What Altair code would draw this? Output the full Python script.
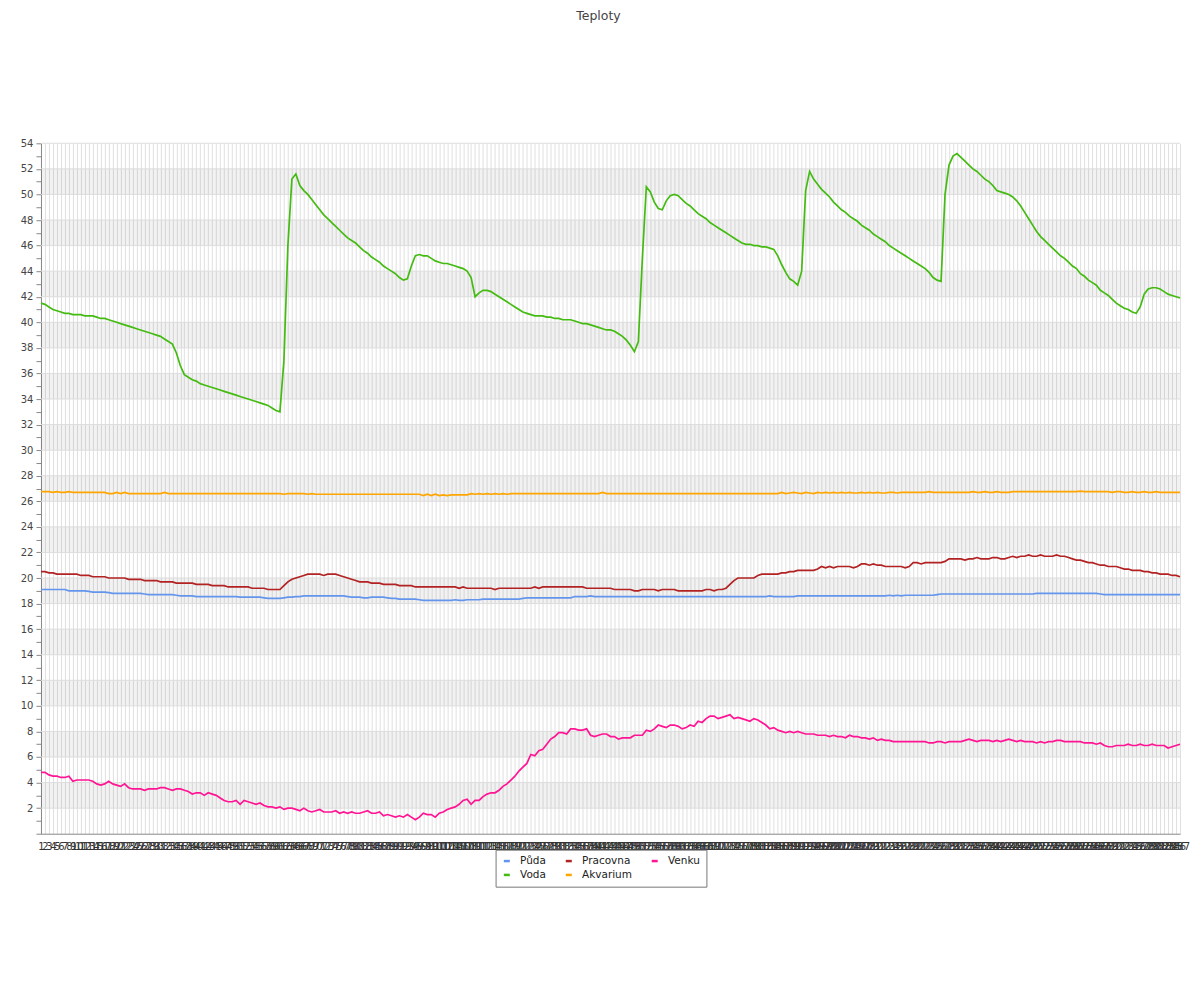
import altair as alt
import pandas as pd

# sample numbers on the x axis (categories)
labels = [str(n) for n in range(1, 288)]

puda = [
    19.1, 19.1, 19.1, 19.1, 19.1, 19.1, 19.1, 19.0, 19.0, 19.0,
    19.0, 19.0, 18.95, 18.9, 18.9, 18.9, 18.9, 18.85, 18.8, 18.8,
    18.8, 18.8, 18.8, 18.8, 18.8, 18.8, 18.75, 18.7, 18.7, 18.7,
    18.7, 18.7, 18.7, 18.7, 18.65, 18.6, 18.6, 18.6, 18.6, 18.55,
    18.55, 18.55, 18.55, 18.55, 18.55, 18.55, 18.55, 18.55, 18.55, 18.55,
    18.5, 18.5, 18.5, 18.5, 18.5, 18.5, 18.45, 18.4, 18.4, 18.4,
    18.4, 18.45, 18.5, 18.5, 18.55, 18.55, 18.6, 18.6, 18.6, 18.6,
    18.6, 18.6, 18.6, 18.6, 18.6, 18.6, 18.6, 18.55, 18.5, 18.5,
    18.5, 18.45, 18.45, 18.5, 18.5, 18.5, 18.5, 18.45, 18.4, 18.4,
    18.35, 18.35, 18.35, 18.35, 18.35, 18.3, 18.25, 18.25, 18.25, 18.25,
    18.25, 18.25, 18.25, 18.25, 18.3, 18.25, 18.25, 18.3, 18.3, 18.3,
    18.3, 18.35, 18.35, 18.35, 18.35, 18.35, 18.35, 18.35, 18.35, 18.35,
    18.35, 18.4, 18.45, 18.45, 18.45, 18.45, 18.45, 18.45, 18.45, 18.45,
    18.45, 18.45, 18.45, 18.45, 18.55, 18.55, 18.55, 18.55, 18.6, 18.55,
    18.55, 18.55, 18.55, 18.55, 18.55, 18.55, 18.55, 18.55, 18.55, 18.55,
    18.55, 18.55, 18.55, 18.55, 18.55, 18.55, 18.55, 18.55, 18.55, 18.55,
    18.55, 18.55, 18.55, 18.55, 18.55, 18.55, 18.55, 18.55, 18.55, 18.55,
    18.55, 18.55, 18.55, 18.55, 18.55, 18.55, 18.55, 18.55, 18.55, 18.55,
    18.55, 18.55, 18.55, 18.6, 18.55, 18.55, 18.55, 18.55, 18.55, 18.55,
    18.6, 18.6, 18.6, 18.6, 18.6, 18.6, 18.6, 18.6, 18.6, 18.6,
    18.6, 18.6, 18.6, 18.6, 18.6, 18.6, 18.6, 18.6, 18.6, 18.6,
    18.6, 18.6, 18.6, 18.65, 18.6, 18.65, 18.6, 18.65, 18.65, 18.65,
    18.65, 18.65, 18.65, 18.65, 18.65, 18.7, 18.75, 18.75, 18.75, 18.75,
    18.75, 18.75, 18.75, 18.75, 18.75, 18.75, 18.75, 18.75, 18.75, 18.75,
    18.75, 18.75, 18.75, 18.75, 18.75, 18.75, 18.75, 18.75, 18.75, 18.75,
    18.8, 18.8, 18.8, 18.8, 18.8, 18.8, 18.8, 18.8, 18.8, 18.8,
    18.8, 18.8, 18.8, 18.8, 18.8, 18.8, 18.75, 18.7, 18.7, 18.7,
    18.7, 18.7, 18.7, 18.7, 18.7, 18.7, 18.7, 18.7, 18.7, 18.7,
    18.7, 18.7, 18.7, 18.7, 18.7, 18.7, 18.7,
]

pracovna = [
    20.5, 20.5, 20.4, 20.4, 20.3, 20.3, 20.3, 20.3, 20.3, 20.3,
    20.2, 20.2, 20.2, 20.1, 20.1, 20.1, 20.1, 20.0, 20.0, 20.0,
    20.0, 20.0, 19.9, 19.9, 19.9, 19.9, 19.8, 19.8, 19.8, 19.8,
    19.7, 19.7, 19.7, 19.7, 19.6, 19.6, 19.6, 19.6, 19.6, 19.5,
    19.5, 19.5, 19.5, 19.4, 19.4, 19.4, 19.4, 19.3, 19.3, 19.3,
    19.3, 19.3, 19.3, 19.2, 19.2, 19.2, 19.2, 19.1, 19.1, 19.1,
    19.1, 19.4, 19.7, 19.9, 20.0, 20.1, 20.2, 20.3, 20.3, 20.3,
    20.3, 20.2, 20.3, 20.3, 20.3, 20.2, 20.1, 20.0, 19.9, 19.8,
    19.7, 19.7, 19.7, 19.6, 19.6, 19.6, 19.5, 19.5, 19.5, 19.5,
    19.4, 19.4, 19.4, 19.4, 19.3, 19.3, 19.3, 19.3, 19.3, 19.3,
    19.3, 19.3, 19.3, 19.3, 19.3, 19.2, 19.3, 19.2, 19.2, 19.2,
    19.2, 19.2, 19.2, 19.2, 19.1, 19.2, 19.2, 19.2, 19.2, 19.2,
    19.2, 19.2, 19.2, 19.2, 19.3, 19.2, 19.3, 19.3, 19.3, 19.3,
    19.3, 19.3, 19.3, 19.3, 19.3, 19.3, 19.3, 19.2, 19.2, 19.2,
    19.2, 19.2, 19.2, 19.2, 19.1, 19.1, 19.1, 19.1, 19.1, 19.0,
    19.0, 19.1, 19.1, 19.1, 19.1, 19.0, 19.1, 19.1, 19.1, 19.1,
    19.0, 19.0, 19.0, 19.0, 19.0, 19.0, 19.0, 19.1, 19.1, 19.0,
    19.1, 19.1, 19.2, 19.5, 19.8, 20.0, 20.0, 20.0, 20.0, 20.0,
    20.2, 20.3, 20.3, 20.3, 20.3, 20.3, 20.4, 20.4, 20.5, 20.5,
    20.6, 20.6, 20.6, 20.6, 20.6, 20.7, 20.9, 20.8, 20.9, 20.8,
    20.9, 20.9, 20.9, 20.9, 20.8, 20.9, 21.1, 21.1, 21.0, 21.1,
    21.0, 21.0, 20.9, 20.9, 20.9, 20.9, 20.9, 20.8, 20.9, 21.2,
    21.2, 21.1, 21.2, 21.2, 21.2, 21.2, 21.2, 21.3, 21.5, 21.5,
    21.5, 21.5, 21.4, 21.5, 21.5, 21.6, 21.5, 21.5, 21.5, 21.6,
    21.6, 21.5, 21.5, 21.6, 21.7, 21.6, 21.7, 21.7, 21.8, 21.7,
    21.7, 21.8, 21.7, 21.7, 21.7, 21.8, 21.7, 21.7, 21.6, 21.5,
    21.4, 21.4, 21.3, 21.2, 21.2, 21.1, 21.0, 21.0, 20.9, 20.9,
    20.9, 20.8, 20.7, 20.7, 20.6, 20.6, 20.6, 20.5, 20.5, 20.4,
    20.4, 20.3, 20.3, 20.3, 20.2, 20.2, 20.1,
]

venku = [
    4.8, 4.8, 4.6, 4.5, 4.5, 4.4, 4.4, 4.5, 4.1, 4.2,
    4.2, 4.2, 4.2, 4.1, 3.9, 3.8, 3.9, 4.1, 3.9, 3.8,
    3.7, 3.9, 3.6, 3.5, 3.5, 3.5, 3.4, 3.5, 3.5, 3.5,
    3.6, 3.6, 3.5, 3.4, 3.5, 3.5, 3.4, 3.3, 3.1, 3.2,
    3.2, 3.0, 3.2, 3.1, 3.0, 2.8, 2.6, 2.5, 2.5, 2.6,
    2.3, 2.6, 2.5, 2.4, 2.3, 2.4, 2.2, 2.1, 2.1, 2.0,
    2.1, 1.9, 2.0, 2.0, 1.9, 1.8, 2.0, 1.8, 1.7, 1.8,
    1.9, 1.7, 1.7, 1.7, 1.8, 1.6, 1.7, 1.6, 1.7, 1.6,
    1.6, 1.7, 1.8, 1.6, 1.6, 1.7, 1.4, 1.5, 1.4, 1.3,
    1.4, 1.3, 1.5, 1.3, 1.1, 1.3, 1.6, 1.5, 1.5, 1.3,
    1.6, 1.7, 1.9, 2.0, 2.1, 2.3, 2.6, 2.7, 2.3, 2.6,
    2.6, 2.9, 3.1, 3.2, 3.2, 3.4, 3.7, 3.9, 4.2, 4.5,
    4.9, 5.2, 5.5, 6.2, 6.1, 6.5, 6.6, 7.0, 7.4, 7.6,
    7.9, 7.9, 7.8, 8.2, 8.2, 8.1, 8.1, 8.2, 7.7, 7.6,
    7.7, 7.8, 7.8, 7.6, 7.6, 7.4, 7.5, 7.5, 7.5, 7.7,
    7.7, 7.7, 8.1, 8.0, 8.2, 8.5, 8.4, 8.3, 8.5, 8.5,
    8.4, 8.2, 8.3, 8.5, 8.4, 8.8, 8.7, 9.0, 9.2, 9.2,
    9.0, 9.1, 9.2, 9.3, 9.0, 9.1, 9.0, 8.9, 8.8, 9.0,
    8.9, 8.7, 8.5, 8.2, 8.3, 8.1, 8.0, 7.9, 8.0, 7.9,
    8.0, 7.9, 7.8, 7.8, 7.8, 7.7, 7.7, 7.7, 7.6, 7.7,
    7.6, 7.6, 7.5, 7.7, 7.6, 7.6, 7.5, 7.5, 7.4, 7.5,
    7.3, 7.4, 7.3, 7.3, 7.2, 7.2, 7.2, 7.2, 7.2, 7.2,
    7.2, 7.2, 7.2, 7.1, 7.1, 7.2, 7.2, 7.1, 7.2, 7.2,
    7.2, 7.2, 7.3, 7.4, 7.3, 7.2, 7.3, 7.3, 7.3, 7.2,
    7.3, 7.2, 7.3, 7.4, 7.3, 7.2, 7.3, 7.2, 7.2, 7.2,
    7.1, 7.2, 7.1, 7.2, 7.2, 7.3, 7.3, 7.2, 7.2, 7.2,
    7.2, 7.2, 7.1, 7.1, 7.1, 7.0, 7.1, 6.9, 6.8, 6.8,
    6.9, 6.9, 6.9, 7.0, 6.9, 6.9, 7.0, 6.9, 6.9, 7.0,
    6.9, 6.9, 6.9, 6.7, 6.8, 6.9, 7.0,
]

voda = [
    41.5, 41.4, 41.2, 41.0, 40.9, 40.8, 40.7, 40.7, 40.6, 40.6,
    40.6, 40.5, 40.5, 40.5, 40.4, 40.3, 40.3, 40.2, 40.1, 40.0,
    39.9, 39.8, 39.7, 39.6, 39.5, 39.4, 39.3, 39.2, 39.1, 39.0,
    38.9, 38.7, 38.5, 38.3, 37.6, 36.6, 35.9, 35.7, 35.5, 35.4,
    35.2, 35.1, 35.0, 34.9, 34.8, 34.7, 34.6, 34.5, 34.4, 34.3,
    34.2, 34.1, 34.0, 33.9, 33.8, 33.7, 33.6, 33.5, 33.3, 33.1,
    33.0, 37.0, 46.0, 51.2, 51.6, 50.7, 50.3, 50.0, 49.6, 49.2,
    48.8, 48.4, 48.1, 47.8, 47.5, 47.2, 46.9, 46.6, 46.4, 46.2,
    45.9, 45.6, 45.4, 45.1, 44.9, 44.7, 44.4, 44.2, 44.0, 43.8,
    43.5, 43.3, 43.4, 44.4, 45.2, 45.3, 45.2, 45.2, 45.0, 44.8,
    44.7, 44.6, 44.6, 44.5, 44.4, 44.3, 44.2, 44.0, 43.5, 42.0,
    42.3, 42.5, 42.5, 42.4, 42.2, 42.0, 41.8, 41.6, 41.4, 41.2,
    41.0, 40.8, 40.7, 40.6, 40.5, 40.5, 40.5, 40.4, 40.4, 40.3,
    40.3, 40.2, 40.2, 40.2, 40.1, 40.0, 39.9, 39.9, 39.8, 39.7,
    39.6, 39.5, 39.4, 39.4, 39.3, 39.1, 38.9, 38.6, 38.2, 37.7,
    38.5, 45.0, 50.6, 50.2, 49.4, 48.9, 48.8, 49.5, 49.9, 50.0,
    49.9, 49.6, 49.3, 49.1, 48.8, 48.5, 48.3, 48.1, 47.8, 47.6,
    47.4, 47.2, 47.0, 46.8, 46.6, 46.4, 46.2, 46.1, 46.1, 46.0,
    46.0, 45.9, 45.9, 45.8, 45.7, 45.2, 44.5, 43.9, 43.4, 43.2,
    42.9, 44.0, 50.3, 51.8, 51.2, 50.8, 50.4, 50.1, 49.8, 49.4,
    49.1, 48.8, 48.6, 48.3, 48.1, 47.9, 47.6, 47.4, 47.2, 46.9,
    46.7, 46.5, 46.3, 46.0, 45.8, 45.6, 45.4, 45.2, 45.0, 44.8,
    44.6, 44.4, 44.2, 43.9, 43.5, 43.3, 43.2, 50.0, 52.3, 53.0,
    53.2, 52.9, 52.6, 52.3, 52.0, 51.8, 51.5, 51.2, 51.0, 50.7,
    50.3, 50.2, 50.1, 50.0, 49.8, 49.5, 49.1, 48.6, 48.1, 47.6,
    47.1, 46.7, 46.4, 46.1, 45.8, 45.5, 45.2, 45.0, 44.7, 44.4,
    44.2, 43.8, 43.6, 43.3, 43.1, 42.9, 42.5, 42.3, 42.1, 41.8,
    41.5, 41.3, 41.1, 41.0, 40.8, 40.7, 41.2, 42.2, 42.6, 42.7,
    42.7, 42.6, 42.4, 42.2, 42.1, 42.0, 41.9,
]

akvarium = [
    26.75, 26.75, 26.75, 26.7, 26.75, 26.7, 26.7, 26.75, 26.7, 26.7,
    26.7, 26.7, 26.7, 26.7, 26.7, 26.7, 26.7, 26.6, 26.6, 26.7,
    26.6, 26.7, 26.6, 26.6, 26.6, 26.6, 26.6, 26.6, 26.6, 26.6,
    26.6, 26.7, 26.6, 26.6, 26.6, 26.6, 26.6, 26.6, 26.6, 26.6,
    26.6, 26.6, 26.6, 26.6, 26.6, 26.6, 26.6, 26.6, 26.6, 26.6,
    26.6, 26.6, 26.6, 26.6, 26.6, 26.6, 26.6, 26.6, 26.6, 26.6,
    26.6, 26.55, 26.6, 26.6, 26.6, 26.6, 26.6, 26.55, 26.6, 26.55,
    26.55, 26.55, 26.55, 26.55, 26.55, 26.55, 26.55, 26.55, 26.55, 26.55,
    26.55, 26.55, 26.55, 26.55, 26.55, 26.55, 26.55, 26.55, 26.55, 26.55,
    26.55, 26.55, 26.55, 26.55, 26.55, 26.55, 26.45, 26.55, 26.45, 26.55,
    26.45, 26.5, 26.45, 26.5, 26.5, 26.5, 26.5, 26.5, 26.6, 26.55,
    26.6, 26.55, 26.6, 26.55, 26.6, 26.55, 26.6, 26.55, 26.6, 26.6,
    26.6, 26.6, 26.6, 26.6, 26.6, 26.6, 26.6, 26.6, 26.6, 26.6,
    26.6, 26.6, 26.6, 26.6, 26.6, 26.6, 26.6, 26.6, 26.6, 26.6,
    26.6, 26.7, 26.6, 26.6, 26.6, 26.6, 26.6, 26.6, 26.6, 26.6,
    26.6, 26.6, 26.6, 26.6, 26.6, 26.6, 26.6, 26.6, 26.6, 26.6,
    26.6, 26.6, 26.6, 26.6, 26.6, 26.6, 26.6, 26.6, 26.6, 26.6,
    26.6, 26.6, 26.6, 26.6, 26.6, 26.6, 26.6, 26.6, 26.6, 26.6,
    26.6, 26.6, 26.6, 26.6, 26.6, 26.6, 26.7, 26.6, 26.65, 26.7,
    26.65, 26.6, 26.7, 26.65, 26.6, 26.7, 26.65, 26.7, 26.65, 26.7,
    26.65, 26.7, 26.65, 26.7, 26.65, 26.65, 26.7, 26.65, 26.7, 26.65,
    26.7, 26.65, 26.65, 26.7, 26.7, 26.65, 26.7, 26.7, 26.7, 26.7,
    26.7, 26.7, 26.7, 26.75, 26.7, 26.7, 26.7, 26.7, 26.7, 26.7,
    26.7, 26.7, 26.7, 26.7, 26.75, 26.7, 26.7, 26.75, 26.7, 26.7,
    26.75, 26.7, 26.7, 26.7, 26.75, 26.75, 26.75, 26.75, 26.75, 26.75,
    26.75, 26.75, 26.75, 26.75, 26.75, 26.75, 26.75, 26.75, 26.75, 26.75,
    26.75, 26.8, 26.75, 26.75, 26.75, 26.75, 26.75, 26.75, 26.75, 26.7,
    26.75, 26.75, 26.7, 26.7, 26.75, 26.7, 26.7, 26.75, 26.7, 26.7,
    26.75, 26.7, 26.7, 26.7, 26.7, 26.7, 26.7,
]

series_names = ["Půda", "Pracovna", "Venku", "Voda", "Akvarium"]
series_colors = ["#6495ed", "#b22222", "#ff1493", "#44bb11", "#ffa500"]
series_values = [puda, pracovna, venku, voda, akvarium]

band_low = [2, 6, 10, 14, 18, 22, 26, 30, 34, 38, 42, 46, 50]
band_high = [4, 8, 12, 16, 20, 24, 28, 32, 36, 40, 44, 48, 52]
grid_values = [2, 4, 6, 8, 10, 12, 14, 16, 18, 20, 22, 24, 26, 28,
               30, 32, 34, 36, 38, 40, 42, 44, 46, 48, 50, 52, 54]
y_ticks = list(range(0, 55))

rows = []
for name, vals in zip(series_names, series_values):
    for i, (lab, v) in enumerate(zip(labels, vals)):
        rows.append({"t": lab, "i": i, "name": name, "v": v})
df = pd.DataFrame(rows)
bands = pd.DataFrame({"lo": band_low, "hi": band_high})
grid = pd.DataFrame({"g": grid_values})

FONT = "DejaVu Sans"
yscale = alt.Scale(domain=[0, 54], nice=False, zero=False)
yaxis = alt.Axis(
    title=None, values=y_ticks,
    labelExpr="(datum.value % 2 == 0 && datum.value > 0) ? datum.label : ''",
    grid=False, tickSize=5, tickColor="#888888", domainColor="#888888",
    labelFontSize=10, labelFont=FONT, labelColor="#444444", labelPadding=3,
)

band_layer = alt.Chart(bands).mark_rect(fill="#000000", fillOpacity=0.05).encode(
    y=alt.Y("lo:Q", scale=yscale, axis=yaxis),
    y2="hi:Q",
)

grid_layer = alt.Chart(grid).mark_rule(color="#dddddd", strokeWidth=1).encode(
    y=alt.Y("g:Q", scale=yscale, axis=yaxis),
)

line_layer = alt.Chart(df).mark_line(strokeWidth=1.7).encode(
    x=alt.X(
        "t:O", sort=labels,
        scale=alt.Scale(type="point", padding=0),
        axis=alt.Axis(
            title=None, labelAngle=0, labelOverlap=False, labelFlush=False,
            ticks=False, grid=True, gridColor="#e0e0e0", domainColor="#888888",
            labelFontSize=10, labelFont=FONT, labelColor="#333333", labelPadding=8,
        ),
    ),
    y=alt.Y("v:Q", scale=yscale, axis=yaxis),
    color=alt.Color(
        "name:N",
        scale=alt.Scale(domain=series_names, range=series_colors),
        legend=alt.Legend(
            title=None, orient="none", legendX=455, legendY=707,
            columns=3, direction="horizontal",
            symbolType="stroke", symbolSize=36, symbolStrokeWidth=2.5,
            labelFont=FONT, labelFontSize=10.5, labelColor="#222222",
            labelOffset=8, columnPadding=14, rowPadding=3,
            padding=6, strokeColor="#777777", fillColor="#ffffff",
        ),
    ),
    order=alt.Order("i:Q"),
)

chart = alt.layer(band_layer, grid_layer, line_layer).properties(
    width=1140,
    height=691,
    autosize=alt.AutoSizeParams(type="none"),
    padding={"left": 33, "top": 135, "right": 12, "bottom": 150},
    title=alt.TitleParams(
        "Teploty", font=FONT, fontSize=12.5, fontWeight="normal",
        color="#444444", anchor="middle", frame="group", dx=-12, offset=116,
    ),
).configure_view(stroke=None)

chart.save("out.html", embed_options={"renderer": "svg", "actions": False})
